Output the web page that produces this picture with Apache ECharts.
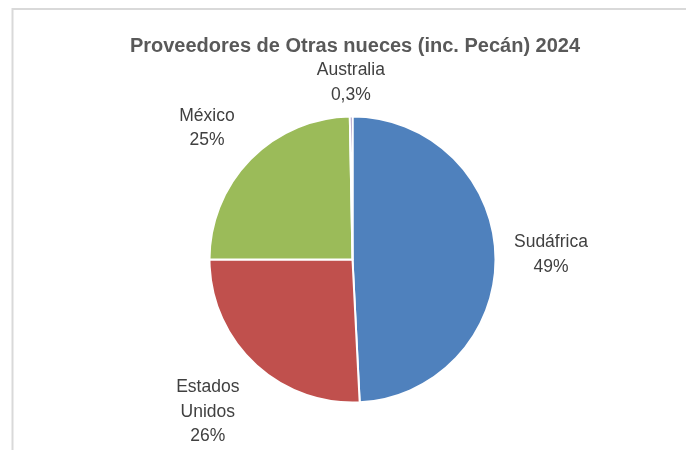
<!DOCTYPE html>
<html>
<head>
<meta charset="utf-8">
<script src="https://cdn.jsdelivr.net/npm/echarts@6/dist/echarts.min.js"></script>
<style>
html,body{margin:0;padding:0;background:#fff;}
#chart{width:686px;height:450px;}
</style>
</head>
<body>
<div id="chart"></div>
<script>
const titleText = 'Proveedores de Otras nueces (inc. Pecán) 2024';
const categories = ['Sudáfrica', 'Estados Unidos', 'México', 'Australia'];
const values = [49.2, 25.8, 24.7, 0.3];
const colors = ['#4F81BD', '#C0504D', '#9BBB59', '#8064A2'];
// label placement (style): distance of label centre from pie centre, and angular nudge in degrees
const labelDist = [198.5, 210, 196, 177];
const labelNudge = [0, 0, -2.4, 0];

const CX = 352.5, CY = 259.5, R = 143;
const total = values.reduce((a, b) => a + b, 0);

function fmtPct(v) {
  const p = v / total * 100;
  if (p < 1) return p.toFixed(1).replace('.', ',') + '%';
  return Math.round(p) + '%';
}
function midAngle(i) {
  let before = 0;
  for (let k = 0; k < i; k++) before += values[k];
  return (before + values[i] / 2) / total * 2 * Math.PI; // clockwise from top
}

const FONT = "'Liberation Sans', Arial, sans-serif";

const chart = echarts.init(document.getElementById('chart'), null, {renderer: 'canvas'});
chart.setOption({
  backgroundColor: '#ffffff',
  animation: false,
  title: {
    text: titleText,
    left: 355,
    top: 36,
    textAlign: 'center',
    padding: 0,
    textStyle: {fontFamily: FONT, fontSize: 20, fontWeight: 'bold', color: '#595959'}
  },
  graphic: [{
    type: 'rect',
    shape: {x: 12.5, y: 9, width: 700, height: 500},
    style: {fill: 'none', stroke: '#d9d9d9', lineWidth: 2},
    silent: true
  }],
  series: [{
    type: 'pie',
    center: [CX, CY],
    radius: [0, R],
    startAngle: 90,
    clockwise: true,
    data: categories.map((c, i) => ({name: c, value: values[i], itemStyle: {color: colors[i]}})),
    itemStyle: {borderColor: '#ffffff', borderWidth: 2},
    label: {
      show: true,
      position: 'outside',
      formatter: p => p.name.replace(' ', '\n') + '\n' + fmtPct(p.value),
      fontFamily: FONT,
      fontSize: 17.5,
      lineHeight: 24.5,
      color: '#404040'
    },
    labelLine: {show: false, length: 10, length2: 0},
    labelLayout: function (p) {
      const a = midAngle(p.dataIndex) + labelNudge[p.dataIndex] * Math.PI / 180;
      const d = labelDist[p.dataIndex];
      return {x: CX + d * Math.sin(a), y: CY - d * Math.cos(a), align: 'center', verticalAlign: 'middle'};
    }
  }]
});
</script>
</body>
</html>
